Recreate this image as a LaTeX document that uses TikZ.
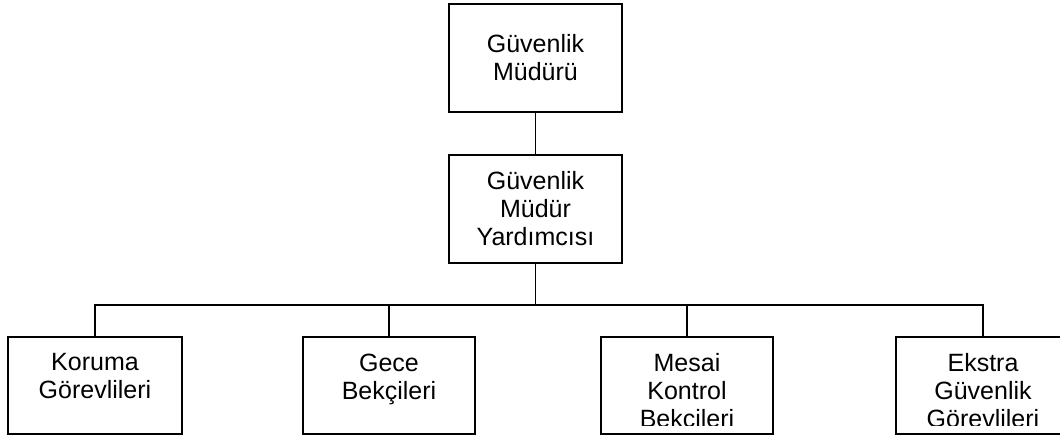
\documentclass[tikz,border=0pt]{standalone}
\usepackage{fontspec}
\setmainfont{Liberation Sans}
\begin{document}
\begin{tikzpicture}[x=1pt,y=-1pt,
  box/.style={draw, line width=1.2pt, minimum width=174pt, inner sep=0pt,
    align=center, font=\fontsize{25}{28}\selectfont},
  lbl/.style={inner sep=0pt, align=center, anchor=north,
    font=\fontsize{25}{28}\selectfont},
  link/.style={line width=1.2pt}]
\clip (0,0) rectangle (1060,436);

% upper levels
\node[box, minimum width=173pt, minimum height=108pt] (gm) at (535.5,58) {Güvenlik\\Müdürü};
\node[box, minimum width=173pt, minimum height=108pt] (gmy) at (535.5,209) {Güvenlik\\Müdür\\Yardımcısı};

% lower level
\node[box, minimum height=97pt] (kg) at (95,385.5) {};
\node[box, minimum width=172pt, minimum height=97pt] (gb) at (389,385.5) {};
\node[box, minimum width=172pt, minimum height=97pt] (mkb) at (687,385.5) {};
\node[box, minimum height=97pt] (egg) at (983,385.5) {};

% text of the lower boxes, cut off above the bottom edge
\begin{scope}
  \clip (0,0) rectangle (1060,425);
  \node[lbl] (kgt) at (95,353.5) {Koruma\\Görevlileri};
  \node[lbl] (gbt) at (389,353.5) {Gece\\Bekçileri};
  \node[lbl] (mkbt) at (687,353.5) {Mesai\\Kontrol\\Bekcileri};
  \node[lbl] (eggt) at (983,353.5) {Ekstra\\Güvenlik\\Görevlileri};
\end{scope}

% connectors
\coordinate (bus) at (0,305);
\draw[link] (gm.south) -- (gmy.north);
\draw[link] (gmy.south) -- (gmy.south |- bus);
\draw[link] (kg.north) -- (kg.north |- bus) -- (egg.north |- bus) -- (egg.north);
\draw[link] (gb.north) -- (gb.north |- bus);
\draw[link] (mkb.north) -- (mkb.north |- bus);
\end{tikzpicture}
\end{document}
